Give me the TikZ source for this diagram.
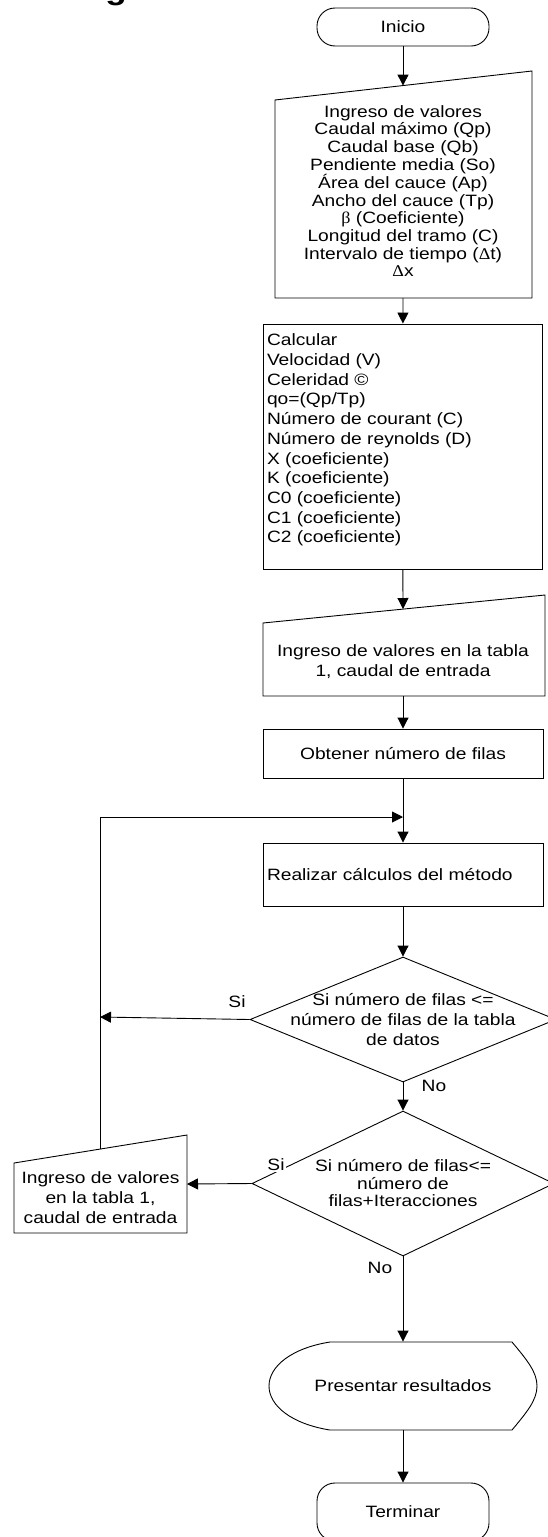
\documentclass[tikz,border=0pt]{standalone}
\usepackage{fontspec}
\setmainfont{Liberation Sans}[FakeStretch=1.17]
\newfontfamily\simbolo{Liberation Serif}[FakeStretch=1.1]
\usetikzlibrary{shapes.geometric,arrows.meta,calc}

\tikzset{
  flecha/.style={-{Triangle[length=11pt,width=11pt]}},
  txt/.style={font=\fontsize{16.4}{19.7}\selectfont, inner sep=0pt},
  caja/.style={draw, rectangle, txt},
  term/.style={draw, rectangle, rounded corners=18pt, minimum width=172pt, txt},
  decision/.style={draw, diamond, inner sep=0pt},
}

\begin{document}
\begin{tikzpicture}[x=1pt,y=-1pt,line width=0.9pt]
\clip (0,0) rectangle (548,1537);

%% resto del titulo
\node[font=\fontsize{30}{30}\bfseries\selectfont, anchor=base, inner sep=0pt] (titulo) at (116,-1) {g};

%% inicio
\node[term, minimum height=38pt] (inicio) at (403,27) {Inicio};

%% entrada de datos
\draw (275,100) -- (532,71) -- (532,298) -- (275,298) -- cycle;
\node[txt, align=center, font=\fontsize{16.4}{17.6}\selectfont] (valores) at (403,191) {Ingreso de valores\\Caudal m\'aximo (Qp)\\Caudal base (Qb)\\Pendiente media (So)\\\'Area del cauce (Ap)\\Ancho del cauce (Tp)\\{\simbolo β} (Coeficiente)\\Longitud del tramo (C)\\Intervalo de tiempo ({\simbolo Δ}t)\\{\simbolo Δ}x};
\coordinate (valores-in) at (403,85.6);
\coordinate (valores-out) at (403,298);

%% calculos
\node[draw, minimum width=279pt, minimum height=245pt, inner sep=0pt] (calc) at (402.5,446.5) {};
\node[txt, anchor=north west, align=left] (calctxt) at ($(calc.north west)+(4,10)$) {Calcular\\Velocidad (V)\\Celeridad \textcopyright\\qo=(Qp/Tp)\\N\'umero de courant (C)\\N\'umero de reynolds (D)\\X (coeficiente)\\K (coeficiente)\\C0 (coeficiente)\\C1 (coeficiente)\\C2 (coeficiente)};

%% tabla 1
\draw (263,623) -- (545,595) -- (545,696) -- (263,696) -- cycle;
\node[txt, align=center, font=\fontsize{16.4}{20}\selectfont] (tabla) at (403,662) {Ingreso de valores en la tabla\\1, caudal de entrada};
\coordinate (tabla-in) at (403,609);
\coordinate (tabla-out) at (403,696);

\node[caja, minimum width=280pt, minimum height=49pt] (filas) at (403,753.5) {Obtener n\'umero de filas};
\node[caja, text width=272pt, inner sep=4pt, align=left, minimum height=63pt] (metodo) at (403,874.5) {Realizar c\'alculos del m\'etodo};

%% decisiones
\node[decision, minimum width=306pt, minimum height=125pt] (d1) at (403,1019.5) {};
\node[txt, align=center] (d1txt) at (d1.center) {Si n\'umero de filas <=\\n\'umero de filas de la tabla\\de datos};
\node[decision, minimum width=302pt, minimum height=145pt] (d2) at (403,1183.5) {};
\node[txt, align=center, font=\fontsize{16.4}{17.5}\selectfont] (d2txt) at (d2.center) {Si n\'umero de filas<=\\n\'umero de\\filas+Iteracciones};

%% entrada lateral
\draw (14,1163) -- (187,1135) -- (187,1233) -- (14,1233) -- cycle;
\node[txt, align=center, font=\fontsize{16.4}{20}\selectfont] (lateral) at (100.5,1198) {Ingreso de valores\\en la tabla 1,\\caudal de entrada};
\coordinate (lateral-top) at (100,1149);
\coordinate (lateral-in) at (187,1184);

%% salida
\node[minimum width=268pt, minimum height=88pt, inner sep=0pt, txt] (salida) at (403,1386) {Presentar resultados};
\draw (330,1342) -- (512,1342) .. controls (527,1360) and (537,1372) .. (537,1386)
      .. controls (537,1400) and (527,1412) .. (512,1430) -- (330,1430)
      .. controls (292,1424) and (269,1406) .. (269,1386)
      .. controls (269,1366) and (292,1348) .. (330,1342) -- cycle;

\node[term, minimum height=58pt] (fin) at (403,1512) {Terminar};

%% conectores
\coordinate (retorno) at (403,817);
\coordinate (si-fin) at (100,1017);
\draw[flecha] (inicio) -- (valores-in);
\draw[flecha] (valores-out) -- (calc);
\draw[flecha] (calc) -- (tabla-in);
\draw[flecha] (tabla-out) -- (filas);
\draw[flecha] (filas) -- (metodo);
\draw[flecha] (metodo) -- (d1);
\draw[flecha] (d1.south) -- (d2.north);
\draw[flecha] (d1.west) -- (si-fin);
\draw[flecha] (d2.west) -- (lateral-in);
\draw[flecha] (lateral-top) |- (retorno);
\draw[flecha] (d2.south) -- (salida.north);
\draw[flecha] (salida.south) -- (fin);

%% etiquetas
\node[txt] (si1) at (237,1002) {Si};
\node[txt, fill=white, inner sep=1pt] (si2) at (276,1165) {Si};
\node[txt] (no1) at (434,1086) {No};
\node[txt] (no2) at (380,1268) {No};
\end{tikzpicture}
\end{document}
